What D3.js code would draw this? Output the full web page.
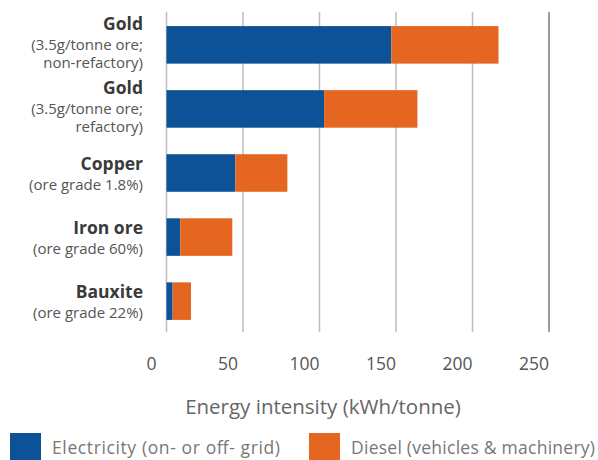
<!DOCTYPE html>
<meta charset="utf-8">
<head>
  <title>Energy intensity by commodity</title>
</head>
<style>
body {
  margin: 0;
  background: white;
  font-family: "Open Sans", sans-serif;
}
svg text {
  font-family: "Open Sans", sans-serif;
}
</style>
<body>
<div id="chart"></div>
<script src="https://cdnjs.cloudflare.com/ajax/libs/d3/7.8.5/d3.min.js"></script>
<script>
// categories: bold name + grey sub lines
var minerals = ["Gold", "Gold", "Copper", "Iron ore", "Bauxite"];
var subLabels = [
  ["(3.5g/tonne ore;", "non-refactory)"],
  ["(3.5g/tonne ore;", "refactory)"],
  ["(ore grade 1.8%)"],
  ["(ore grade 60%)"],
  ["(ore grade 22%)"]
];
// kWh/tonne
var electricity = [147, 103, 45, 9, 4];
var diesel = [70, 61, 34, 34, 12];
var seriesNames = ["Electricity (on- or off- grid)", "Diesel (vehicles & machinery)"];
var ticks = [0, 50, 100, 150, 200, 250];

var width = 598, height = 460;
var blue = "#0d5196", orange = "#e56620";

var svg = d3.select("#chart").append("svg")
    .attr("width", width)
    .attr("height", height);

var x = d3.scaleLinear().domain([0, 250]).range([166.5, 549]);
var y = d3.scaleBand().domain(d3.range(minerals.length)).range([12, 334]).paddingInner(0.414).paddingOuter(0.22);

// gridlines
svg.append("g").selectAll("line")
  .data(ticks)
  .enter().append("line")
    .attr("x1", function(d) { return x(d); })
    .attr("x2", function(d) { return x(d); })
    .attr("y1", 12)
    .attr("y2", 332)
    .attr("stroke", function(d) { return d === 250 ? "#7a7a7a" : "#bdbdbd"; })
    .attr("stroke-width", 1.5);

// stacked bars
var rows = minerals.map(function(m, i) {
  return {i: i, elec: electricity[i], diesel: diesel[i]};
});
var stack = d3.stack().keys(["elec", "diesel"])(rows);
var colours = [blue, orange];

svg.append("g").selectAll("g")
  .data(stack)
  .enter().append("g")
    .attr("fill", function(d, k) { return colours[k]; })
  .selectAll("rect")
  .data(function(d) { return d; })
  .enter().append("rect")
    .attr("x", function(d) { return x(d[0]); })
    .attr("width", function(d) { return x(d[1]) - x(d[0]); })
    .attr("y", function(d) { return y(d.data.i); })
    .attr("height", y.bandwidth());

// category labels
var labels = svg.append("g").selectAll("text")
  .data(minerals)
  .enter().append("text")
    .attr("text-anchor", "end")
    .attr("y", function(d, i) {
      var c = y(i) + y.bandwidth() / 2;
      return c - 3 - (subLabels[i].length - 1) * 11.5;
    });
labels.append("tspan")
    .attr("x", 143)
    .attr("font-weight", "bold")
    .attr("font-size", "17.5px")
    .attr("fill", "#3a3a3a")
    .text(function(d) { return d; });
labels.each(function(d, i) {
  var t = d3.select(this);
  subLabels[i].forEach(function(s, j) {
    t.append("tspan")
      .attr("x", 143)
      .attr("dy", j === 0 ? 19.5 : 18.5)
      .attr("font-size", "15px")
      .attr("fill", "#555")
      .text(s);
  });
});

// tick labels (sit a little left of the gridlines)
svg.append("g").selectAll("text")
  .data(ticks)
  .enter().append("text")
    .attr("x", function(d) { return x(d) - 15; })
    .attr("y", 369.5)
    .attr("text-anchor", "middle")
    .attr("font-size", "17.5px")
    .attr("fill", "#555")
    .text(function(d) { return d; });

// axis title
svg.append("text")
  .attr("x", 323)
  .attr("y", 414)
  .attr("text-anchor", "middle")
  .attr("font-size", "20.5px")
  .attr("fill", "#666")
  .text("Energy intensity (kWh/tonne)");

// legend
var legendX = [10, 309];
var legendLen = [228, 244];
var legend = svg.append("g").selectAll("g")
  .data(seriesNames)
  .enter().append("g")
    .attr("transform", function(d, i) { return "translate(" + legendX[i] + ",433)"; });
legend.append("rect")
    .attr("width", 31)
    .attr("height", 27)
    .attr("fill", function(d, i) { return colours[i]; });
legend.append("text")
    .attr("x", 42)
    .attr("y", 20.5)
    .attr("font-size", "17.5px")
    .attr("fill", "#777")
    .attr("textLength", function(d, i) { return legendLen[i]; })
    .attr("lengthAdjust", "spacing")
    .text(function(d) { return d; });
</script>
</body>
</html>
